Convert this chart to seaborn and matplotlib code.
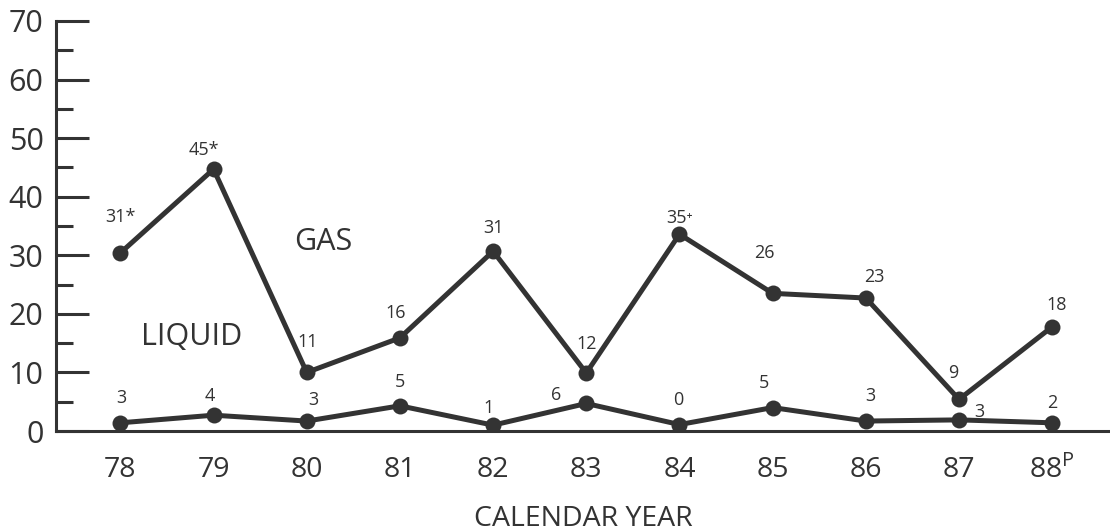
"""
Gas and liquid incidents by calendar year, redrawn with seaborn.
"""

import matplotlib
matplotlib.use('Agg')
import matplotlib.pyplot as plt
import seaborn as sns
import pandas as pd
from matplotlib.ticker import MultipleLocator

# Data (plotted heights) plus the printed labels
years = [78, 79, 80, 81, 82, 83, 84, 85, 86, 87, 88]
year_labels = ['78', '79', '80', '81', '82', '83', '84', '85', '86', '87', r'88$^{\mathrm{P}}$']
gas = [30.4, 44.7, 10.0, 15.9, 30.7, 9.9, 33.6, 23.5, 22.7, 5.4, 17.8]
gas_labels = ['31*', '45*', '11', '16', '31', '12', '35\u207a', '26', '23', '9', '18']
liquid = [1.4, 2.7, 1.7, 4.3, 1.0, 4.7, 1.1, 4.0, 1.7, 1.9, 1.4]
liquid_labels = ['3', '4', '3', '5', '1', '6', '0', '5', '3', '3', '2']

# Label offsets in points (dx, dy) from each marker
gas_offsets = [(0, 26), (-7, 14), (1, 22), (-3, 18), (0, 17), (0, 21),
               (0, 12), (-6, 29), (6, 15), (-4, 19), (3, 16)]
liquid_offsets = [(1, 18), (-3, 14), (5, 15), (0, 17), (-3, 12), (-22, 6),
                  (-1, 18), (-6, 18), (3, 18), (15, 6), (0, 14)]

INK = '#333333'

sns.set_style('white')
plt.rcParams['font.family'] = ['Open Sans', 'DejaVu Sans']
plt.rcParams['font.weight'] = 'medium'
plt.rcParams['mathtext.fontset'] = 'custom'
plt.rcParams['mathtext.rm'] = 'Open Sans'

df = pd.DataFrame({'year': years, 'gas': gas, 'liquid': liquid})

fig = plt.figure(figsize=(11.1, 5.31), dpi=100)
ax = fig.add_axes([0.0505, 0.1883, 0.9495, 0.7722])

for col in ['gas', 'liquid']:
    sns.lineplot(data=df, x='year', y=col, ax=ax, color=INK, linewidth=3.6,
                 marker='o', markersize=11.5, markeredgewidth=0,
                 markerfacecolor=INK)

for x, y, lab, (dx, dy) in zip(years, gas, gas_labels, gas_offsets):
    ax.annotate(lab, (x, y), xytext=(dx, dy), textcoords='offset points',
                ha='center', va='center', fontsize=13, color=INK)
for x, y, lab, (dx, dy) in zip(years, liquid, liquid_labels, liquid_offsets):
    ax.annotate(lab, (x, y), xytext=(dx, dy), textcoords='offset points',
                ha='center', va='center', fontsize=13, color=INK)

# Series names written inside the plot
ax.text(79.86, 32.2, 'GAS', fontsize=22, color=INK, ha='left', va='center')
ax.text(78.22, 16.0, 'LIQUID', fontsize=22, color=INK, ha='left', va='center')

ax.set_xlim(77.31, 88.62)
ax.set_ylim(0, 70)
ax.set_xticks(years)
ax.set_xticklabels(year_labels)
ax.yaxis.set_major_locator(MultipleLocator(10))
ax.yaxis.set_minor_locator(MultipleLocator(5))

ax.tick_params(axis='y', which='major', direction='in', length=24, width=2.2,
               color=INK, labelsize=22, labelcolor=INK, pad=9, left=True)
ax.tick_params(axis='y', which='minor', direction='in', length=12.5, width=2.2,
               color=INK, left=True)
ax.tick_params(axis='x', which='both', length=0, labelsize=20.5,
               labelcolor=INK, pad=18)

ax.set_xlabel('CALENDAR YEAR', fontsize=20.5, color=INK, labelpad=14)
ax.set_ylabel('')

for side in ['top', 'right']:
    ax.spines[side].set_visible(False)
for side in ['left', 'bottom']:
    ax.spines[side].set_color(INK)
    ax.spines[side].set_linewidth(2.2)
ax.spines['left'].set_bounds(0, 70)

fig.savefig('out.png', dpi=100)
